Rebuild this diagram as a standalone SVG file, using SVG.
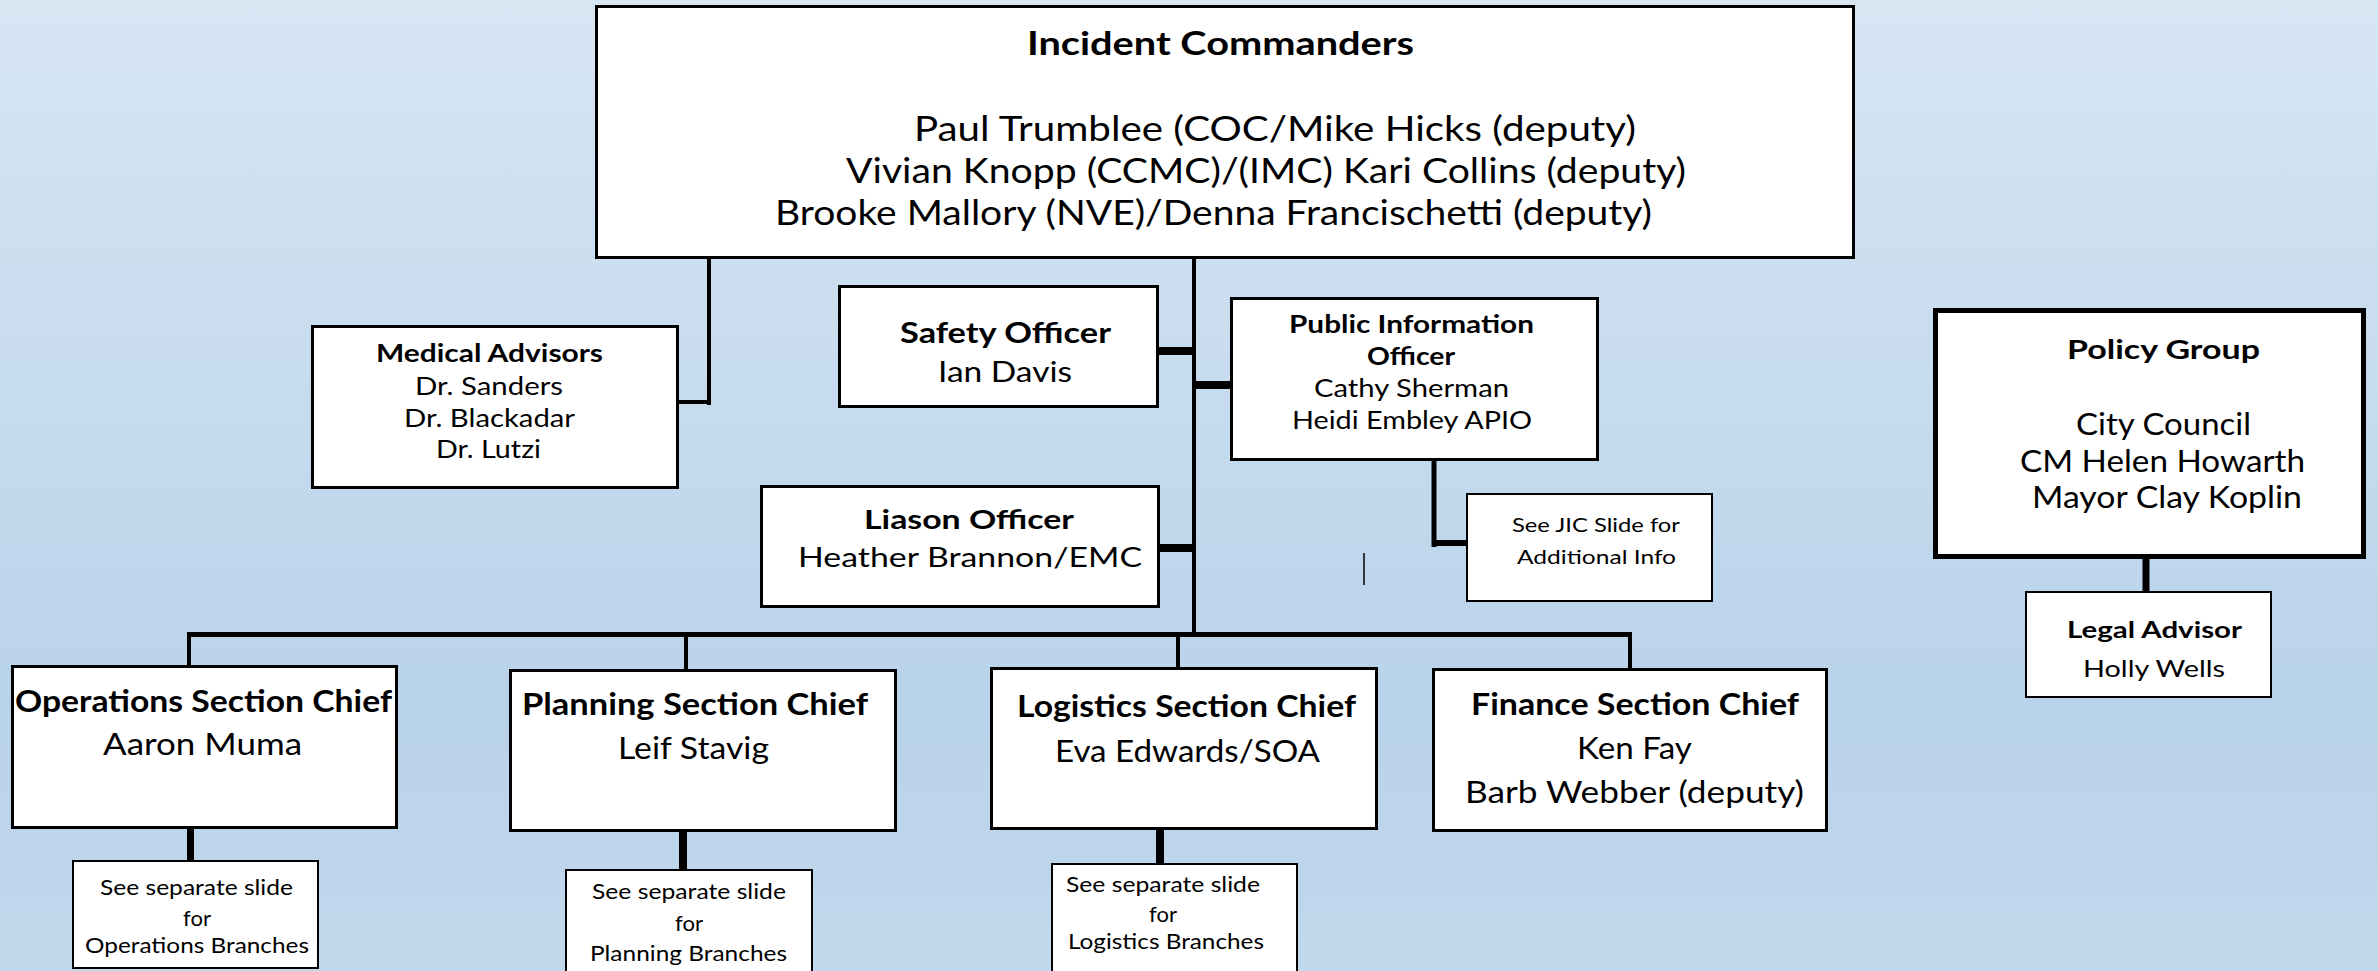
<svg xmlns="http://www.w3.org/2000/svg" width="2378" height="971" viewBox="0 0 2378 971">
<defs>
<linearGradient id="bg" x1="0" y1="0" x2="0" y2="1">
<stop offset="0" stop-color="#d7e6f3"/>
<stop offset="0.72" stop-color="#b9d3ea"/>
<stop offset="1" stop-color="#c1d7ec"/>
</linearGradient>
<style>
.box{fill:#fff;stroke:#000;stroke-width:3}
.thin{stroke-width:2}
.thick{stroke-width:5}
text{font-family:Lato,"Open Sans","Liberation Sans",sans-serif;fill:#000}
.b{font-weight:bold}
.ln{stroke:#000;fill:none;stroke-linecap:butt}
</style>
</defs>
<rect x="0" y="0" width="2378" height="971" fill="url(#bg)"/>

<g id="connectors">
<path class="ln" stroke-width="4" d="M709,259 V405 M679,402 H711"/>
<path class="ln" stroke-width="4" d="M1194,259 V636"/>
<path class="ln" stroke-width="8" d="M1159,351 H1192"/>
<path class="ln" stroke-width="8" d="M1196,385 H1230"/>
<path class="ln" stroke-width="8" d="M1160,548 H1192"/>
<path class="ln" stroke-width="5" d="M187,634.5 H1632"/>
<path class="ln" stroke-width="4" d="M189,634 V665 M686,636 V669 M1178,634 V667 M1630,634 V668"/>
<path class="ln" stroke-width="7" d="M190.5,829 V861"/>
<path class="ln" stroke-width="8" d="M683,832 V869"/>
<path class="ln" stroke-width="8" d="M1160,830 V863"/>
<path class="ln" stroke-width="5" d="M1434,461 V547"/>
<path class="ln" stroke-width="6" d="M1432,543 H1466"/>
<path class="ln" stroke-width="7" d="M2146,559 V591"/>
<path class="ln" stroke-width="1.5" stroke="#333" d="M1364,553 V585"/>
</g>

<g id="incident-commanders">
<rect class="box" x="596.5" y="6.5" width="1257" height="251"/>
<text class="b" x="1027" y="55" font-size="32" textLength="387" lengthAdjust="spacingAndGlyphs">Incident Commanders</text>
<text x="914" y="141" font-size="34" textLength="722" lengthAdjust="spacingAndGlyphs">Paul Trumblee (COC/Mike Hicks (deputy)</text>
<text x="846" y="183" font-size="34" textLength="840" lengthAdjust="spacingAndGlyphs">Vivian Knopp (CCMC)/(IMC) Kari Collins (deputy)</text>
<text x="775" y="225" font-size="34" textLength="877" lengthAdjust="spacingAndGlyphs">Brooke Mallory (NVE)/Denna Francischetti (deputy)</text>
</g>

<g id="medical-advisors">
<rect class="box" x="312.5" y="326.5" width="365" height="161"/>
<text class="b" x="376" y="362" font-size="25" textLength="227" lengthAdjust="spacingAndGlyphs">Medical Advisors</text>
<text x="415" y="395" font-size="25" textLength="148" lengthAdjust="spacingAndGlyphs">Dr. Sanders</text>
<text x="404" y="427" font-size="25" textLength="171" lengthAdjust="spacingAndGlyphs">Dr. Blackadar</text>
<text x="436" y="458" font-size="25" textLength="105" lengthAdjust="spacingAndGlyphs">Dr. Lutzi</text>
</g>

<g id="safety-officer">
<rect class="box" x="839.5" y="286.5" width="318" height="120"/>
<text class="b" x="900" y="343" font-size="28" textLength="211" lengthAdjust="spacingAndGlyphs">Safety Officer</text>
<text x="938" y="382" font-size="28" textLength="134" lengthAdjust="spacingAndGlyphs">Ian Davis</text>
</g>

<g id="liason-officer">
<rect class="box" x="761.5" y="486.5" width="397" height="120"/>
<text class="b" x="864" y="529" font-size="27" textLength="210" lengthAdjust="spacingAndGlyphs">Liason Officer</text>
<text x="798" y="567" font-size="27" textLength="344" lengthAdjust="spacingAndGlyphs">Heather Brannon/EMC</text>
</g>

<g id="public-information-officer">
<rect class="box" x="1231.5" y="298.5" width="366" height="161"/>
<text class="b" x="1289" y="333" font-size="25" textLength="245" lengthAdjust="spacingAndGlyphs">Public Information</text>
<text class="b" x="1367" y="365" font-size="25" textLength="88" lengthAdjust="spacingAndGlyphs">Officer</text>
<text x="1314" y="397" font-size="25" textLength="195" lengthAdjust="spacingAndGlyphs">Cathy Sherman</text>
<text x="1292" y="429" font-size="25" textLength="240" lengthAdjust="spacingAndGlyphs">Heidi Embley APIO</text>
</g>

<g id="jic-note">
<rect class="box thin" x="1467" y="494" width="245" height="107"/>
<text x="1512" y="532" font-size="20" textLength="168" lengthAdjust="spacingAndGlyphs">See JIC Slide for</text>
<text x="1517" y="564" font-size="20" textLength="159" lengthAdjust="spacingAndGlyphs">Additional Info</text>
</g>

<g id="policy-group">
<rect class="box thick" x="1935.5" y="310.5" width="428" height="246"/>
<text class="b" x="2067" y="359" font-size="27" textLength="193" lengthAdjust="spacingAndGlyphs">Policy Group</text>
<text x="2076" y="435" font-size="30" textLength="175" lengthAdjust="spacingAndGlyphs">City Council</text>
<text x="2020" y="472" font-size="30" textLength="285" lengthAdjust="spacingAndGlyphs">CM Helen Howarth</text>
<text x="2032" y="508" font-size="30" textLength="270" lengthAdjust="spacingAndGlyphs">Mayor Clay Koplin</text>
</g>

<g id="legal-advisor">
<rect class="box thin" x="2026" y="592" width="245" height="105"/>
<text class="b" x="2067" y="638" font-size="23" textLength="175" lengthAdjust="spacingAndGlyphs">Legal Advisor</text>
<text x="2083" y="677" font-size="23" textLength="142" lengthAdjust="spacingAndGlyphs">Holly Wells</text>
</g>

<g id="operations-section-chief">
<rect class="box" x="12.5" y="666.5" width="384" height="161"/>
<text class="b" x="15" y="712" font-size="31" textLength="377" lengthAdjust="spacingAndGlyphs">Operations Section Chief</text>
<text x="103" y="755" font-size="31" textLength="199" lengthAdjust="spacingAndGlyphs">Aaron Muma</text>
</g>

<g id="planning-section-chief">
<rect class="box" x="510.5" y="670.5" width="385" height="160"/>
<text class="b" x="522" y="715" font-size="31" textLength="346" lengthAdjust="spacingAndGlyphs">Planning Section Chief</text>
<text x="618" y="759" font-size="31" textLength="151" lengthAdjust="spacingAndGlyphs">Leif Stavig</text>
</g>

<g id="logistics-section-chief">
<rect class="box" x="991.5" y="668.5" width="385" height="160"/>
<text class="b" x="1017" y="717" font-size="31" textLength="339" lengthAdjust="spacingAndGlyphs">Logistics Section Chief</text>
<text x="1055" y="762" font-size="31" textLength="265" lengthAdjust="spacingAndGlyphs">Eva Edwards/SOA</text>
</g>

<g id="finance-section-chief">
<rect class="box" x="1433.5" y="669.5" width="393" height="161"/>
<text class="b" x="1471" y="715" font-size="31" textLength="328" lengthAdjust="spacingAndGlyphs">Finance Section Chief</text>
<text x="1577" y="759" font-size="31" textLength="115" lengthAdjust="spacingAndGlyphs">Ken Fay</text>
<text x="1465" y="803" font-size="31" textLength="339" lengthAdjust="spacingAndGlyphs">Barb Webber (deputy)</text>
</g>

<g id="operations-branches-note">
<rect class="box thin" x="73" y="861" width="245" height="107"/>
<text x="100" y="895" font-size="22" textLength="193" lengthAdjust="spacingAndGlyphs">See separate slide</text>
<text x="197" y="926" font-size="22" text-anchor="middle">for</text>
<text x="85" y="953" font-size="22" textLength="224" lengthAdjust="spacingAndGlyphs">Operations Branches</text>
</g>

<g id="planning-branches-note">
<rect class="box thin" x="566" y="870" width="246" height="112"/>
<text x="592" y="899" font-size="22" textLength="194" lengthAdjust="spacingAndGlyphs">See separate slide</text>
<text x="689" y="931" font-size="22" text-anchor="middle">for</text>
<text x="590" y="961" font-size="22" textLength="197" lengthAdjust="spacingAndGlyphs">Planning Branches</text>
</g>

<g id="logistics-branches-note">
<rect class="box thin" x="1052" y="864" width="245" height="118"/>
<text x="1066" y="892" font-size="22" textLength="194" lengthAdjust="spacingAndGlyphs">See separate slide</text>
<text x="1163" y="922" font-size="22" text-anchor="middle">for</text>
<text x="1068" y="949" font-size="22" textLength="196" lengthAdjust="spacingAndGlyphs">Logistics Branches</text>
</g>
</svg>
